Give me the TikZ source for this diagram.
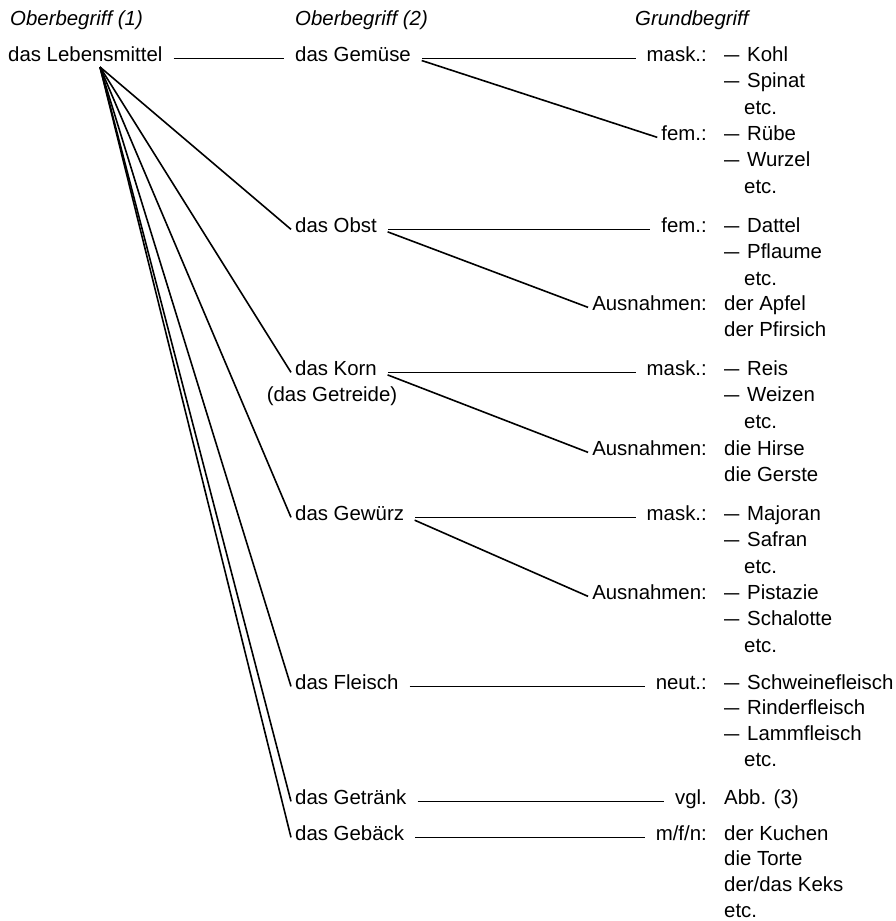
\documentclass[tikz,border=0pt]{standalone}
\usepackage{fontspec}
\setmainfont{Liberation Sans}
\usepackage{graphicx}
\usetikzlibrary{positioning}
\newcommand{\strich}{\makebox[23pt][l]{\scalebox{0.75}[1]{—}}}
\newcommand{\usw}{\hspace*{20pt}etc.}
\newcommand{\liste}[1]{\begin{tabular}[t]{@{}l@{}}#1\end{tabular}}

\begin{document}
\begin{tikzpicture}[
    x=1pt, y=-1pt,
    every node/.style={inner sep=4pt, font=\fontsize{20.4pt}{26.6pt}\selectfont},
    heading/.style={anchor=base west, font=\fontsize{20.4pt}{26.6pt}\selectfont\itshape},
    term/.style={anchor=base west},
    gender/.style={anchor=base east},
    words/.style={base right=9pt of #1},
    tight/.style={font=\fontsize{20.4pt}{25.9pt}\selectfont},
    link/.style={line width=1.6pt},
    hlink/.style={link, shorten <=7pt, shorten >=7pt},
    dlink/.style={link, shorten <=7pt}
  ]
    \useasboundingbox (0,0) rectangle (896,921);

    % Column headings
    \node[heading] (head1) at (6,25) {Oberbegriff (1)};
    \node[heading] (head2) at (291,25) {Oberbegriff (2)};
    \node[heading] (head3) at (631,25) {Grundbegriff};

    % Oberbegriff (1)
    \node[term] (lm) at (4,61) {das Lebensmittel};
    \coordinate (fan) at (100,67);

    % Oberbegriff (2)
    \node[term] (gem) at (291,61) {das Gemüse};
    \node[term] (obst) at (291,232) {das Obst};
    \node[term] (korn) at (291,375) {das Korn};
    \node[anchor=base] (getreide) at ([xshift=-4pt, yshift=-26.6pt]korn.base) {(das Getreide)};
    \node[term] (gew) at (291,520) {das Gewürz};
    \node[term] (fleisch) at (291,689) {das Fleisch};
    \node[term] (getr) at (291,804) {das Getränk};
    \node[term] (geb) at (291,840) {das Gebäck};

    % Genus
    \node[gender] (mask1) at (711,61) {mask.:};
    \node[gender] (fem1) at (711,140) {fem.:};
    \node[gender] (fem2) at (711,232) {fem.:};
    \node[gender] (aus1) at (711,310) {Ausnahmen:};
    \node[gender] (mask2) at (711,375) {mask.:};
    \node[gender] (aus2) at (711,455) {Ausnahmen:};
    \node[gender] (mask3) at (711,520) {mask.:};
    \node[gender] (aus3) at (711,599) {Ausnahmen:};
    \node[gender] (neut) at (711,689) {neut.:};
    \node[gender] (vgl) at (711,804) {vgl.};
    \node[gender] (mfn) at (711,840) {m/f/n:};

    % Grundbegriff
    \node[words=mask1] (kohl) {\liste{\strich Kohl\\\strich Spinat\\\usw}};
    \node[words=fem1] (ruebe) {\liste{\strich Rübe\\\strich Wurzel\\\usw}};
    \node[words=fem2] (dattel) {\liste{\strich Dattel\\\strich Pflaume\\\usw}};
    \node[words=aus1] (apfel) {\liste{der Apfel\\der Pfirsich}};
    \node[words=mask2] (reis) {\liste{\strich Reis\\\strich Weizen\\\usw}};
    \node[words=aus2] (hirse) {\liste{die Hirse\\die Gerste}};
    \node[words=mask3] (majoran) {\liste{\strich Majoran\\\strich Safran\\\usw}};
    \node[words=aus3] (pistazie) {\liste{\strich Pistazie\\\strich Schalotte\\\usw}};
    \node[words=neut, tight] (schwein) {\liste{\strich Schweinefleisch\\\strich Rinderfleisch\\\strich Lammfleisch\\\usw}};
    \node[words=vgl] (abb) {Abb. (3)};
    \node[words=mfn, tight] (kuchen) {\liste{der Kuchen\\die Torte\\der/das Keks\\etc.}};

    % Fan from das Lebensmittel
    \draw[hlink] (lm.mid east) -- (gem.mid west);
    \draw[link] (fan) -- (obst.mid west);
    \draw[link] (fan) -- (korn.mid west);
    \draw[link] (fan) -- (gew.mid west);
    \draw[link] (fan) -- (fleisch.mid west);
    \draw[link] (fan) -- (getr.mid west);
    \draw[link] (fan) -- (geb.mid west);

    % Links to the Genus column
    \draw[hlink] (gem.mid east) -- (mask1.mid west);
    \draw[dlink] (gem.mid east) -- (fem1.mid west);
    \draw[hlink] (obst.mid east) -- (fem2.mid west);
    \draw[dlink] (obst.mid east) -- (aus1.mid west);
    \draw[hlink] (korn.mid east) -- (mask2.mid west);
    \draw[dlink] (korn.mid east) -- (aus2.mid west);
    \draw[hlink] (gew.mid east) -- (mask3.mid west);
    \draw[dlink] (gew.mid east) -- (aus3.mid west);
    \draw[hlink] (fleisch.mid east) -- (neut.mid west);
    \draw[hlink] (getr.mid east) -- (vgl.mid west);
    \draw[hlink] (geb.mid east) -- (mfn.mid west);
  \end{tikzpicture}
\end{document}
